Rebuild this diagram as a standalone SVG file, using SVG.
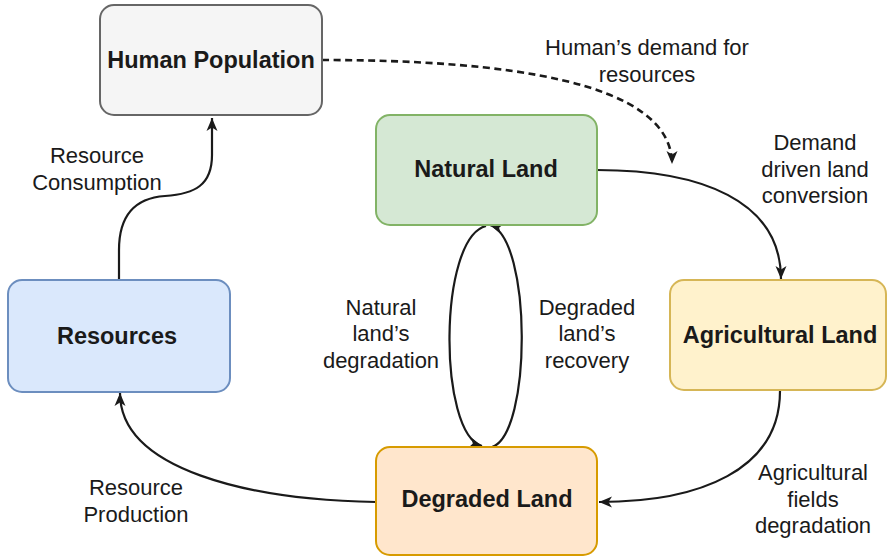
<svg xmlns="http://www.w3.org/2000/svg" width="888" height="557" viewBox="0 0 888 557">
  <style>
    .box { stroke-width: 2; }
    .title { font-family: "Liberation Sans", Arial, sans-serif; font-weight: bold; font-size: 23.5px; fill: #1a1a1a; text-anchor: middle; }
    .lbl { font-family: "Liberation Sans", Arial, sans-serif; font-size: 22px; fill: #1a1a1a; text-anchor: middle; }
    .edge { fill: none; stroke: #1a1a1a; stroke-width: 2.2; }
    .dash { stroke-dasharray: 7 4.5; stroke-width: 2.6; }
  </style>
  <defs>
    <marker id="arrow" markerUnits="userSpaceOnUse" markerWidth="14" markerHeight="12" refX="13" refY="6" orient="auto">
      <path d="M0,0.5 L13,6 L0,11.5 L3.5,6 Z" fill="#1a1a1a"/>
    </marker>
  </defs>

  <!-- connectors -->
  <g id="connectors">
    <path class="edge" d="M119,280 L119,250 C119,215 135,198 165,196 C195,194 212,185 212,155 L212,118" marker-end="url(#arrow)"/>
    <path class="edge dash" d="M322,60 C500,60 672,80 672,164" marker-end="url(#arrow)"/>
    <path class="edge" d="M597,170 C700,170 781,200 781,279" marker-end="url(#arrow)"/>
    <path class="edge" d="M780,391 C780,470 700,502 599,502" marker-end="url(#arrow)"/>
    <path class="edge" d="M376,502 C250,500 120,470 120,393" marker-end="url(#arrow)"/>
    <path class="edge" d="M486,226 C438,238 438,434 482,446" marker-end="url(#arrow)"/>
    <path class="edge" d="M492,447 C532,434 532,238 490,225" marker-end="url(#arrow)"/>

    <text class="lbl" x="647" y="55">Human’s demand for</text>
    <text class="lbl" x="647" y="82">resources</text>

    <text class="lbl" x="97" y="163">Resource</text>
    <text class="lbl" x="97" y="190">Consumption</text>

    <text class="lbl" x="815" y="150">Demand</text>
    <text class="lbl" x="815" y="177">driven land</text>
    <text class="lbl" x="815" y="203">conversion</text>

    <text class="lbl" x="381" y="315">Natural</text>
    <text class="lbl" x="381" y="341">land’s</text>
    <text class="lbl" x="381" y="368">degradation</text>

    <text class="lbl" x="587" y="315">Degraded</text>
    <text class="lbl" x="587" y="341">land’s</text>
    <text class="lbl" x="587" y="368">recovery</text>

    <text class="lbl" x="813" y="480">Agricultural</text>
    <text class="lbl" x="813" y="507">fields</text>
    <text class="lbl" x="813" y="533">degradation</text>

    <text class="lbl" x="136" y="495">Resource</text>
    <text class="lbl" x="136" y="522">Production</text>
  </g>

  <!-- nodes -->
  <g id="human-population">
    <rect class="box" x="100" y="5" width="222" height="110" rx="14" fill="#f5f5f5" stroke="#666666"/>
    <text class="title" x="211" y="68">Human Population</text>
  </g>
  <g id="natural-land">
    <rect class="box" x="376" y="115" width="221" height="110" rx="14" fill="#d5e8d4" stroke="#82b366"/>
    <text class="title" x="486" y="177">Natural Land</text>
  </g>
  <g id="agricultural-land">
    <rect class="box" x="670" y="280" width="216" height="110" rx="14" fill="#fff2cc" stroke="#d6b656"/>
    <text class="title" x="780" y="343">Agricultural Land</text>
  </g>
  <g id="resources">
    <rect class="box" x="8" y="280" width="222" height="112" rx="14" fill="#dae8fc" stroke="#6c8ebf"/>
    <text class="title" x="117" y="344">Resources</text>
  </g>
  <g id="degraded-land">
    <rect class="box" x="376" y="447" width="221" height="108" rx="14" fill="#ffe6cc" stroke="#d79b00"/>
    <text class="title" x="487" y="507">Degraded Land</text>
  </g>
</svg>
